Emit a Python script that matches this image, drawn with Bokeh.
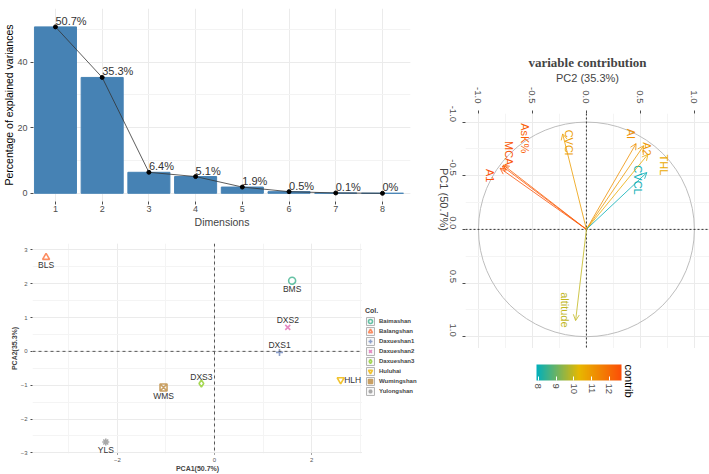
import math
from bokeh.plotting import figure
from bokeh.models import (Range1d, FixedTicker, SingleIntervalTicker, Span, Legend, LegendItem,
                          ColumnDataSource, Arrow, OpenHead, ColorBar, LinearColorMapper,
                          PrintfTickFormatter, Title)
from bokeh.layouts import row, column
from bokeh.embed import file_html
from bokeh.resources import INLINE
from bokeh.core.properties import value

# ---------------- data ----------------
dims = [1, 2, 3, 4, 5, 6, 7, 8]
explained = [50.7, 35.3, 6.4, 5.1, 1.9, 0.5, 0.1, 0.0]
explained_labels = ["50.7%", "35.3%", "6.4%", "5.1%", "1.9%", "0.5%", "0.1%", "0%"]

sites = ["Baimashan", "Balangshan", "Daxueshan1", "Daxueshan2", "Daxueshan3",
         "Huluhai", "Wumingshan", "Yulongshan"]
site_abbr = ["BMS", "BLS", "DXS1", "DXS2", "DXS3", "HLH", "WMS", "YLS"]
pca1 = [1.60, -3.47, 1.34, 1.51, -0.27, 2.60, -1.05, -2.24]
pca2 = [2.09, 2.78, -0.03, 0.71, -0.95, -0.84, -1.07, -2.68]
label_side = ["below", "below", "above", "above", "above", "right", "below", "below"]
site_colors = ["#66C2A5", "#FC8D62", "#8DA0CB", "#E78AC3", "#A6D854", "#F2C431", "#C9A063", "#A9A9A9"]
site_markers = ["circle", "triangle", "cross", "x", "diamond", "inverted_triangle", "square_x", "asterisk"]

variables = ["A1", "MCA", "AsK%", "CVCl", "AI", "A2", "THL", "CVCL", "altitude"]
var_pc1 = [-0.57, -0.59, -0.60, -0.89, -0.80, -0.78, -0.70, -0.53, 0.85]
var_pc2 = [-0.80, -0.78, -0.77, -0.22, 0.46, 0.53, 0.57, 0.56, -0.10]
var_contrib = [12.6, 12.5, 12.3, 10.9, 11.2, 11.0, 10.6, 7.95, 9.9]
lab_pc1 = [-0.50, -0.71, -0.85, -0.81, -0.89, -0.75, -0.60, -0.46, 0.75]
lab_pc2 = [-0.89, -0.72, -0.565, -0.16, 0.41, 0.565, 0.72, 0.48, -0.20]
contrib_low, contrib_high = 7.89, 12.69
contrib_ticks = [8, 9, 10, 11, 12]
grad_cols = ["#00AFBB", "#E7B800", "#FC4E07"]

FONT = "Liberation Sans"


def _hex(c):
    return [int(c[i:i + 2], 16) for i in (1, 3, 5)]


def interp(t):
    t = max(0.0, min(1.0, t))
    if t <= 0.5:
        a, b, u = _hex(grad_cols[0]), _hex(grad_cols[1]), t / 0.5
    else:
        a, b, u = _hex(grad_cols[1]), _hex(grad_cols[2]), (t - 0.5) / 0.5
    return "#%02x%02x%02x" % tuple(int(round(a[k] + (b[k] - a[k]) * u)) for k in range(3))


palette = [interp(i / 255) for i in range(256)]
var_colors = [interp((v - contrib_low) / (contrib_high - contrib_low)) for v in var_contrib]


def style_axis(ax, size="9px", color="#4D4D4D"):
    ax.axis_line_color = None
    ax.major_tick_line_color = "#4D4D4D"
    ax.minor_tick_line_color = None
    ax.major_tick_in = 0
    ax.major_label_text_font = FONT
    ax.major_label_text_font_size = size
    ax.major_label_text_color = color
    ax.axis_label_text_font = FONT
    ax.axis_label_text_font_style = "normal"


def no_align(p):
    if "frame_align" in p.properties():
        p.frame_align = False


# ---------------- scree plot ----------------
p1 = figure(width=420, height=230, x_range=Range1d(0.53, 8.6), y_range=Range1d(-2.5, 56.3),
            output_backend="svg", toolbar_location=None,
            min_border_left=28, min_border_right=10, min_border_top=8, min_border_bottom=28)
no_align(p1)
p1.outline_line_color = None
p1.vbar(x=dims, top=explained, width=0.9, color="#4682B4")
p1.line(dims, explained, line_color="#333333", line_width=0.8)
p1.scatter(dims, explained, size=4, color="black")
p1.text(x=dims, y=explained, text=explained_labels, text_align="left", text_baseline="bottom",
        text_font=value(FONT), text_font_size="11px", text_color="#333333")
p1.xaxis.ticker = FixedTicker(ticks=dims)
p1.yaxis.ticker = SingleIntervalTicker(interval=20, num_minor_ticks=2)
p1.xgrid.ticker = FixedTicker(ticks=dims)
for ax in (p1.xaxis[0], p1.yaxis[0]):
    style_axis(ax)
    ax.major_tick_out = 3
    ax.major_label_standoff = 2
    ax.axis_label_standoff = 0
    ax.axis_label_text_font_size = "10.5px"
p1.xaxis.major_label_standoff = 1
p1.xaxis.axis_label_standoff = 1
p1.xaxis.axis_label = "Dimensions"
p1.add_layout(Title(text="Percentage of explained variances", align="center", standoff=0,
                    text_font=FONT, text_font_size="10.5px", text_font_style="normal",
                    text_color="black"), "left")
p1.xgrid.grid_line_color = "#EBEBEB"
p1.ygrid.grid_line_color = "#EBEBEB"
p1.ygrid.minor_grid_line_color = "#F3F3F3"

# ---------------- individuals plot ----------------
p2 = figure(width=362, height=244, x_range=Range1d(-3.75, 3.05), y_range=Range1d(-3.02, 3.19),
            output_backend="svg", toolbar_location=None,
            min_border_left=32, min_border_right=0, min_border_top=13, min_border_bottom=15)
no_align(p2)
p2.outline_line_color = None
p2.xaxis.ticker = SingleIntervalTicker(interval=2, num_minor_ticks=2)
p2.yaxis.ticker = SingleIntervalTicker(interval=1, num_minor_ticks=2)
for ax in (p2.xaxis[0], p2.yaxis[0]):
    style_axis(ax, size="6px", color="#555555")
    ax.major_tick_out = 2
    ax.major_label_standoff = 1
    ax.axis_label_text_font_size = "7px"
    ax.axis_label_text_font_style = "bold"
    ax.axis_label_standoff = 0
p2.xaxis.major_tick_out = 1
p2.xaxis.major_label_standoff = 0
p2.xaxis.axis_label = "PCA1(50.7%)"
p2.yaxis.axis_label = "PCA2(35.3%)"
p2.xgrid.grid_line_color = "#EBEBEB"
p2.ygrid.grid_line_color = "#EBEBEB"
p2.xgrid.minor_grid_line_color = "#F4F4F4"
p2.ygrid.minor_grid_line_color = "#F4F4F4"
p2.add_layout(Span(location=0, dimension="height", line_color="#555555", line_dash="3 3", line_width=1))
p2.add_layout(Span(location=0, dimension="width", line_color="#555555", line_dash="3 3", line_width=1))

for i, s in enumerate(sites):
    p2.scatter(x=[pca1[i]], y=[pca2[i]], marker=site_markers[i], size=7, line_color=site_colors[i],
               fill_color=None, line_width=1.6)

xo = [12 if side == "right" else 0 for side in label_side]
yo = [8 if side == "below" else (-7 if side == "above" else 0) for side in label_side]
p2.text(x=pca1, y=pca2, text=site_abbr, x_offset=xo, y_offset=yo, text_align="center",
        text_baseline="middle", text_font=value(FONT), text_font_size="8.5px",
        text_color="#333333")

# legend panel (separate figure so that nothing is clipped); its ranges lie away
# from the data so only the legend is visible there
pl = figure(width=58, height=244, x_range=Range1d(100, 101), y_range=Range1d(100, 101),
            output_backend="svg", toolbar_location=None,
            min_border_left=0, min_border_right=0, min_border_top=0, min_border_bottom=0)
no_align(pl)
pl.outline_line_color = None
pl.axis.visible = False
pl.grid.visible = False
key_bg = pl.quad(left=pca1, right=pca1, top=pca2, bottom=pca2, fill_color="#F7F7F7",
                 line_color="#B5B5B5", line_width=1)
items = []
for i, s in enumerate(sites):
    r = pl.scatter(x=[pca1[i]], y=[pca2[i]], marker=site_markers[i], size=7,
                   line_color=site_colors[i], fill_color=None, line_width=1.6)
    items.append(LegendItem(label=s, renderers=[key_bg, r]))
legend = Legend(items=items, location=(3, 78), title="Col.", title_text_font=FONT,
                title_text_font_size="7px", title_text_font_style="bold", title_standoff=2,
                label_text_font=FONT, label_text_font_size="6px", label_text_font_style="bold",
                glyph_width=10, glyph_height=10, label_height=10, label_standoff=4, spacing=0,
                padding=0, margin=0, border_line_color=None, background_fill_alpha=0)
pl.add_layout(legend)

# ---------------- variables plot (rotated) ----------------
p3 = figure(width=289, height=348, x_range=Range1d(-1.12, 1.14), y_range=Range1d(1.11, -1.08),
            x_axis_location="above", output_backend="svg", toolbar_location=None,
            min_border_left=45, min_border_right=0, min_border_top=113, min_border_bottom=0)
no_align(p3)
p3.outline_line_color = None
p3.title.text = "variable contribution"
p3.title.text_font = "Liberation Serif"
p3.title.text_font_size = "13px"
p3.title.text_font_style = "bold"
p3.title.align = "center"
p3.title.standoff = 0
tk = [-1.0, -0.5, 0.0, 0.5, 1.0]
for ax in (p3.xaxis[0], p3.yaxis[0]):
    style_axis(ax, size="9.5px")
    ax.ticker = FixedTicker(ticks=tk)
    ax.formatter = PrintfTickFormatter(format="%.1f")
    ax.major_tick_out = 3
    ax.major_label_orientation = -math.pi / 2
    ax.axis_label_text_font_size = "11px"
    ax.axis_label_standoff = 0
p3.xaxis.major_label_standoff = 7
p3.yaxis.major_label_standoff = 10
p3.xaxis.axis_label = "PC2 (35.3%)"
p3.yaxis.axis_label = "PC1 (50.7%)"
if "axis_label_orientation" in p3.yaxis[0].properties():
    p3.yaxis.axis_label_orientation = -math.pi / 2
p3.xgrid.ticker = SingleIntervalTicker(interval=0.5, num_minor_ticks=2)
p3.ygrid.ticker = SingleIntervalTicker(interval=0.5, num_minor_ticks=2)
p3.xgrid.grid_line_color = "#EBEBEB"
p3.ygrid.grid_line_color = "#EBEBEB"
p3.xgrid.minor_grid_line_color = "#F4F4F4"
p3.ygrid.minor_grid_line_color = "#F4F4F4"
p3.ellipse(x=0, y=0, width=2, height=2, fill_color=None, line_color="#BDBDBD", line_width=1)
p3.add_layout(Span(location=0, dimension="height", line_color="#333333", line_dash="2 2", line_width=1))
p3.add_layout(Span(location=0, dimension="width", line_color="#333333", line_dash="2 2", line_width=1))
for i, v in enumerate(variables):
    p3.add_layout(Arrow(end=OpenHead(size=6, line_color=var_colors[i], line_width=0.8),
                        x_start=0, y_start=0, x_end=var_pc2[i], y_end=var_pc1[i],
                        line_color=var_colors[i], line_width=0.8))
p3.text(x=lab_pc2, y=lab_pc1, text=variables, angle=-math.pi / 2, text_color=var_colors,
        text_align="center", text_baseline="middle", text_font=value(FONT), text_font_size="11px")

# ---------------- colour bar (below the rotated plot) ----------------
p4 = figure(width=289, height=126, x_range=Range1d(contrib_low, contrib_high), y_range=Range1d(0, 1),
            output_backend="svg", toolbar_location=None,
            min_border_left=116, min_border_right=88, min_border_top=16, min_border_bottom=94)
no_align(p4)
p4.outline_line_color = None
p4.grid.visible = False
p4.yaxis.visible = False
style_axis(p4.xaxis[0], size="9.5px")
p4.xaxis.ticker = FixedTicker(ticks=contrib_ticks)
p4.xaxis.major_tick_line_color = None
p4.xaxis.major_tick_out = 0
p4.xaxis.major_label_standoff = 3
p4.xaxis.major_label_orientation = -math.pi / 2
mapper = LinearColorMapper(palette=palette, low=contrib_low, high=contrib_high)
cb = ColorBar(color_mapper=mapper, orientation="horizontal", location=(0, 0), width=85, height=16,
              padding=0, ticker=FixedTicker(ticks=contrib_ticks), major_label_text_alpha=0,
              label_standoff=0, major_label_text_font_size="1px",
              major_tick_line_color="white", major_tick_in=4, major_tick_out=0,
              bar_line_color=None, border_line_color=None, background_fill_alpha=0)
p4.add_layout(cb)
p4.add_layout(Title(text="contrib", align="left", standoff=3, text_font=FONT, text_font_size="11px",
                    text_font_style="normal", text_color="black"), "right")

layout = row(column(p1, row(p2, pl)), column(p3, p4))
open("out.html", "w").write(file_html(layout, INLINE))
